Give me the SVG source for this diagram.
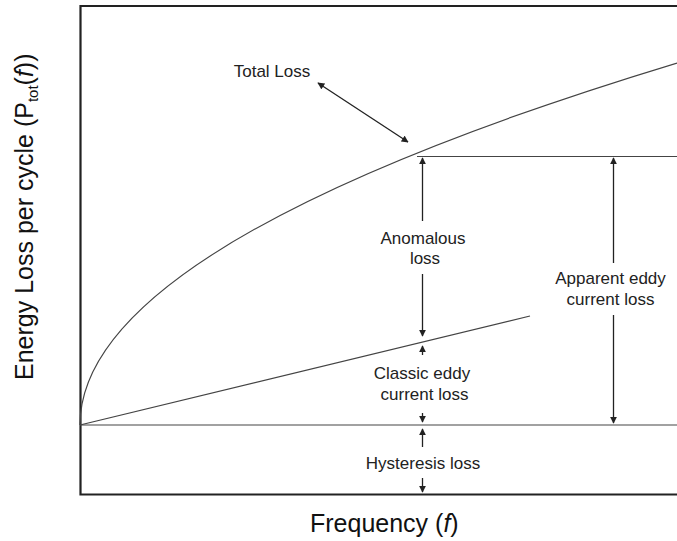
<svg xmlns="http://www.w3.org/2000/svg" width="677" height="541" viewBox="0 0 677 541">
  <style>
    .lbl { font-family: "Liberation Sans", Arial, sans-serif; font-size: 17px; fill: #222; text-anchor: middle; }
    .axis { font-family: "Liberation Sans", Arial, sans-serif; font-size: 25px; fill: #111; }
    .frame { fill: none; stroke: #222; stroke-width: 2.2; }
    .plot { fill: none; stroke: #444; stroke-width: 1.2; }
    .arr { fill: none; stroke: #222; stroke-width: 1.3; }
  </style>
  <defs>
    <marker id="ah" viewBox="0 0 10 10" refX="9" refY="5" markerWidth="7" markerHeight="7" markerUnits="userSpaceOnUse" orient="auto-start-reverse">
      <path d="M0,0 L10,5 L0,10 Z" fill="#222"/>
    </marker>
  </defs>
  <rect width="677" height="541" fill="#fff"/>

  <g id="frame">
    <path class="frame" d="M678,6 H80.5 V494.5 H678"/>
  </g>

  <g id="curves">
    <path id="total-curve" class="plot" d="M80,425 Q80,244 677,63"/>
    <line id="classic-line" class="plot" x1="80" y1="425" x2="530" y2="316"/>
    <line id="hysteresis-line" class="plot" x1="80" y1="425" x2="677" y2="425"/>
    <line id="apparent-top" class="plot" x1="417" y1="156.5" x2="677" y2="156.5"/>
  </g>

  <g id="connectors">
    <line class="arr" x1="318" y1="83" x2="408" y2="142" marker-start="url(#ah)" marker-end="url(#ah)"/>
    <line class="arr" x1="422.5" y1="221" x2="422.5" y2="158" marker-end="url(#ah)"/>
    <line class="arr" x1="422.5" y1="274" x2="422.5" y2="336" marker-end="url(#ah)"/>
    <line class="arr" x1="422.5" y1="355" x2="422.5" y2="346" marker-end="url(#ah)"/>
    <line class="arr" x1="422.5" y1="413" x2="422.5" y2="422" marker-end="url(#ah)"/>
    <line class="arr" x1="422.5" y1="447" x2="422.5" y2="429" marker-end="url(#ah)"/>
    <line class="arr" x1="422.5" y1="478" x2="422.5" y2="492" marker-end="url(#ah)"/>
    <line class="arr" x1="613.5" y1="263" x2="613.5" y2="158" marker-end="url(#ah)"/>
    <line class="arr" x1="613.5" y1="315" x2="613.5" y2="423" marker-end="url(#ah)"/>
  </g>

  <g id="total-loss">
    <text class="lbl" x="272" y="77">Total Loss</text>
  </g>
  <g id="anomalous-loss">
    <text class="lbl" x="423" y="244">Anomalous</text>
    <text class="lbl" x="425" y="264">loss</text>
  </g>
  <g id="apparent-eddy">
    <text class="lbl" x="610.5" y="284">Apparent eddy</text>
    <text class="lbl" x="610.5" y="305">current loss</text>
  </g>
  <g id="classic-eddy">
    <text class="lbl" x="422" y="379">Classic eddy</text>
    <text class="lbl" x="424.5" y="400">current loss</text>
  </g>
  <g id="hysteresis-loss">
    <text class="lbl" x="423" y="469">Hysteresis loss</text>
  </g>

  <g id="x-axis-label">
    <text class="axis" x="310" y="532">Frequency (<tspan font-style="italic">f</tspan>)</text>
  </g>
  <g id="y-axis-label">
    <text class="axis" transform="translate(33,380) rotate(-90)" x="0" y="0">Energy Loss per cycle (P<tspan font-size="15" dy="5">tot</tspan><tspan dy="-5">(</tspan><tspan font-style="italic">f</tspan>))</text>
  </g>
</svg>
